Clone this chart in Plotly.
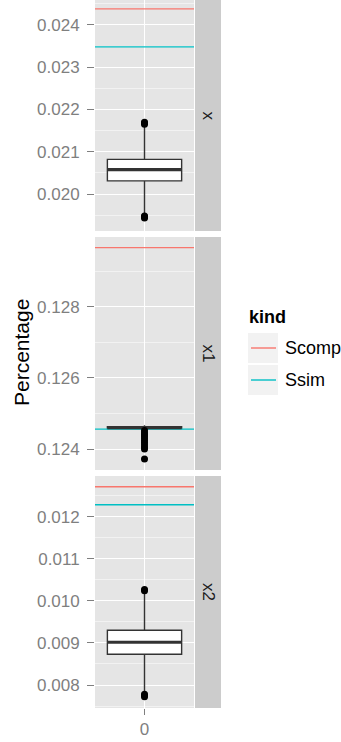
import plotly.graph_objects as go

W, H = 341, 742

# ---------------- data ----------------
facets = ["x", "x1", "x2"]
kinds = ["Scomp", "Ssim"]
kind_colors = ["#F8766D", "#00BFC4"]
ref_values = {                      # horizontal reference lines per facet
    "x":  [0.02438, 0.02348],
    "x1": [0.12966, 0.12456],
    "x2": [0.012713, 0.012285],
}
box_q1 = [0.02031, 0.124575, 0.00873]
box_median = [0.020575, 0.12460, 0.009017]
box_q3 = [0.02082, 0.124625, 0.009302]
box_lower = [0.01950, 0.124535, 0.00779]
box_upper = [0.02164, 0.124665, 0.01022]
outliers = {
    "x":  [0.02165, 0.02168, 0.0217, 0.01943, 0.01946, 0.01948],
    "x1": [0.12452, 0.12446, 0.12441, 0.12436, 0.12430, 0.12424, 0.12418,
           0.12412, 0.12406, 0.12400, 0.12372],
    "x2": [0.01024, 0.01027, 0.00772, 0.00775, 0.00778],
}
y_ranges = [[0.019125, 0.02459], [0.12341, 0.12996], [0.007454, 0.012967]]
y_dticks = [0.001, 0.002, 0.001]
x_category = [0]

# ---------------- layout geometry (pixels) ----------------
plot_x0, plot_x1 = 95, 194
strip_x0, strip_x1 = 195, 221
panels_py = [(0, 231), (237, 470), (476, 708)]

def px(x):
    return x / W

def py(y):
    return 1 - y / H

GREY_TXT = "#7F7F7F"
FONT = "Liberation Sans, Arial, Helvetica, sans-serif"
BOX_W = 0.9
XR = [-0.6, 0.6]

fig = go.Figure()
layout = dict(
    width=W, height=H, autosize=False,
    margin=dict(l=0, r=0, t=0, b=0),
    paper_bgcolor="white", plot_bgcolor="#E5E5E5",
    showlegend=False, font=dict(family=FONT),
)
shapes, annotations = [], []

for i, f in enumerate(facets):
    xa = "x" if i == 0 else f"x{i+1}"
    ya = "y" if i == 0 else f"y{i+1}"
    top, bot = panels_py[i]
    dom_y = [py(bot), py(top)]
    # reference lines
    for k, kind in enumerate(kinds):
        v = ref_values[f][k]
        fig.add_trace(go.Scatter(x=XR, y=[v, v], mode="lines", xaxis=xa, yaxis=ya,
                                 line=dict(color=kind_colors[k], width=1.4),
                                 name=kind, hoverinfo="skip"))
    # box
    fig.add_trace(go.Box(x=x_category, q1=[box_q1[i]], median=[box_median[i]],
                         q3=[box_q3[i]], lowerfence=[box_lower[i]],
                         upperfence=[box_upper[i]], xaxis=xa, yaxis=ya,
                         width=BOX_W, whiskerwidth=0, boxpoints=False,
                         fillcolor="white", line=dict(color="#333333", width=1.4)))
    # thick median
    fig.add_trace(go.Scatter(x=[x_category[0] - BOX_W / 2, x_category[0] + BOX_W / 2],
                             y=[box_median[i]] * 2, mode="lines", xaxis=xa, yaxis=ya,
                             line=dict(color="#333333", width=3.2), hoverinfo="skip"))
    # outliers
    fig.add_trace(go.Scatter(x=x_category * len(outliers[f]), y=outliers[f],
                             mode="markers", xaxis=xa, yaxis=ya,
                             marker=dict(color="black", size=7, line_width=0)))
    # axes
    layout["xaxis" if i == 0 else f"xaxis{i+1}"] = dict(
        domain=[px(plot_x0), px(plot_x1)], anchor=ya, range=XR,
        tickvals=x_category, ticktext=[str(v) for v in x_category],
        showticklabels=(i == 2), ticks="outside" if i == 2 else "",
        ticklen=6, tickcolor=GREY_TXT, tickwidth=1,
        tickfont=dict(size=17, color=GREY_TXT, family=FONT),
        showgrid=True, gridcolor="white", gridwidth=1.4,
        zeroline=False, showline=False, fixedrange=True,
    )
    layout["yaxis" if i == 0 else f"yaxis{i+1}"] = dict(
        domain=dom_y, anchor=xa, range=y_ranges[i],
        dtick=y_dticks[i], tick0=0, tickformat=".3f",
        ticks="outside", ticklen=7, tickcolor=GREY_TXT, tickwidth=1,
        ticklabelstandoff=4,
        tickfont=dict(size=17, color=GREY_TXT, family=FONT),
        showgrid=True, gridcolor="white", gridwidth=1.4,
        minor=dict(dtick=y_dticks[i] / 2, tick0=0, showgrid=True,
                   gridcolor="#F2F2F2", gridwidth=0.7, ticks=""),
        zeroline=False, showline=False, fixedrange=True,
    )
    # strip
    shapes.append(dict(type="rect", xref="paper", yref="paper",
                       x0=px(strip_x0), x1=px(strip_x1), y0=dom_y[0], y1=dom_y[1],
                       fillcolor="#CCCCCC", line_width=0, layer="below"))
    annotations.append(dict(text=f, xref="paper", yref="paper",
                            x=px((strip_x0 + strip_x1) / 2), y=(dom_y[0] + dom_y[1]) / 2,
                            xanchor="center", yanchor="middle",
                            showarrow=False, textangle=90,
                            font=dict(size=17, color="#1A1A1A", family=FONT)))

# y title
annotations.append(dict(text="Percentage", xref="paper", yref="paper",
                        x=px(21), y=py(353), xanchor="center", yanchor="middle",
                        showarrow=False, textangle=-90,
                        font=dict(size=21, color="black", family=FONT)))

# legend (drawn manually, ggplot style)
annotations.append(dict(text="<b>kind</b>", xref="paper", yref="paper",
                        x=px(247), y=py(317), xanchor="left", yanchor="middle",
                        showarrow=False,
                        font=dict(size=18, color="black", family=FONT)))
key_tops = [333, 365]
for k, kind in enumerate(kinds):
    t = key_tops[k]
    shapes.append(dict(type="rect", xref="paper", yref="paper",
                       x0=px(248), x1=px(278), y0=py(t + 30), y1=py(t),
                       fillcolor="#F2F2F2", line_width=0))
    shapes.append(dict(type="line", xref="paper", yref="paper",
                       x0=px(251), x1=px(276), y0=py(t + 15), y1=py(t + 15),
                       line=dict(color=kind_colors[k], width=1.4)))
    annotations.append(dict(text=kind, xref="paper", yref="paper",
                            x=px(283), y=py(t + 15), xanchor="left", yanchor="middle",
                            showarrow=False,
                            font=dict(size=18, color="black", family=FONT)))

layout["shapes"] = shapes
layout["annotations"] = annotations
fig.update_layout(**layout)
fig.write_html("out.html", config={"displayModeBar": False},
               post_script="document.body.style.margin='0px';document.body.style.padding='0px';")
